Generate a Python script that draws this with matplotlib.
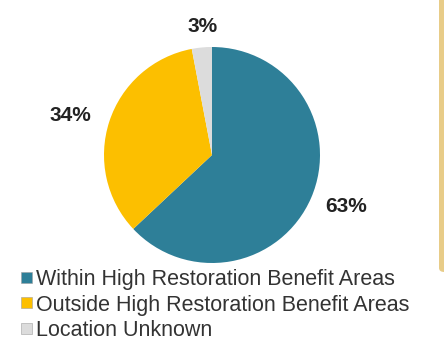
import matplotlib.pyplot as plt
import numpy as np
from matplotlib.patches import FancyBboxPatch, Rectangle

categories = ['Within High Restoration Benefit Areas',
              'Outside High Restoration Benefit Areas',
              'Location Unknown']
shares = [63, 34, 3]
colors = ['#2e7f98', '#fcbf00', '#dcdcdc']
# percent label placement: distance in pie radii, angle nudge in degrees
label_dist = [1.33, 1.36, 1.19]
label_nudge = [2.2, 2.2, -1.4]

W, H = 444, 341
fig = plt.figure(figsize=(W / 100, H / 100), dpi=100)
fig.patch.set_facecolor('white')

cx, cy, r = 212, 155, 108
ax = fig.add_axes([(cx - r) / W, (H - cy - r) / H, 2 * r / W, 2 * r / H])
wedges, _ = ax.pie(shares, colors=colors, startangle=90, counterclock=False,
                   radius=1, wedgeprops=dict(linewidth=0))
ax.set_xlim(-1, 1)
ax.set_ylim(-1, 1)
ax.set_aspect('equal')
ax.axis('off')

sans = ['Liberation Sans', 'DejaVu Sans']
for w, val, d, nd in zip(wedges, shares, label_dist, label_nudge):
    ang = np.deg2rad((w.theta1 + w.theta2) / 2 + nd)
    ax.text(d * np.cos(ang), d * np.sin(ang), f'{val}%', ha='center', va='center',
            fontsize=15, fontweight='bold', family=sans, color='#222222')

# legend rows below the pie, laid out in pixels from the top
row_y0, row_step, box = 277, 25.5, 11
for i, (name, c) in enumerate(zip(categories, colors)):
    yc = row_y0 + i * row_step
    sq = Rectangle((21 / W, (H - yc - box / 2) / H), box / W, box / H,
                   transform=fig.transFigure, facecolor=c,
                   edgecolor='#a0a0a0', linewidth=0.4)
    fig.patches.append(sq)
    fig.text(36 / W, (H - yc) / H, name, ha='left', va='center_baseline',
             fontsize=15.5, family=sans, color='#333333')

# tan side bar on the right edge
bar = FancyBboxPatch((439 / W, (H - 272) / H), 20 / W, 280 / H,
                     boxstyle='round,pad=0,rounding_size=0.012',
                     transform=fig.transFigure, facecolor='#e8cc88',
                     edgecolor='none', clip_on=False)
fig.patches.append(bar)

fig.savefig('out.png', dpi=100)
